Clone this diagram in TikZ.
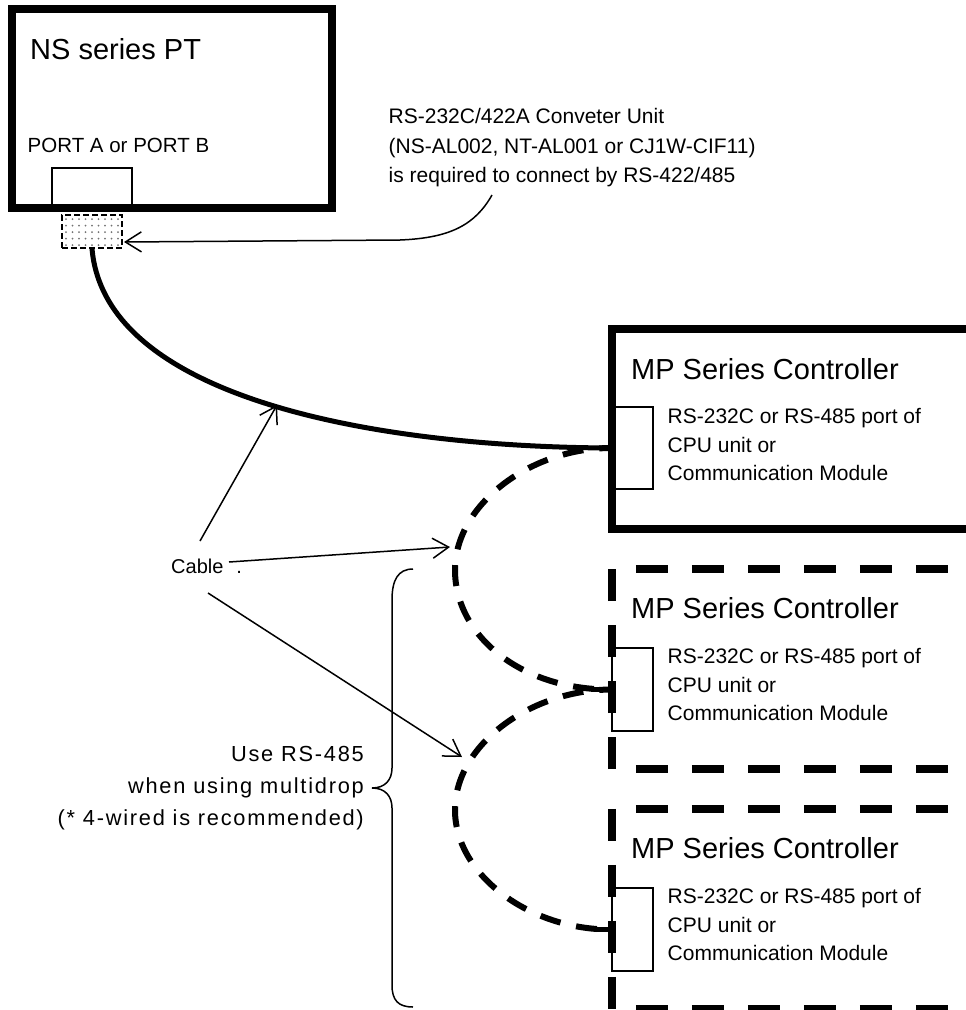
\documentclass[tikz,border=0pt]{standalone}
\usepackage{fontspec}
\setmainfont{Liberation Sans}
\newfontfamily\spacedfont[LetterSpace=8]{Liberation Sans}
\usetikzlibrary{arrows.meta,calc}
\tikzset{
  thickbox/.style={draw, line width=8pt, inner sep=0pt, rectangle},
  hiddenbox/.style={inner sep=0pt, rectangle},
  portbox/.style={draw, line width=1.5pt, inner sep=0pt, rectangle},
  bigtext/.style={font=\fontsize{29}{34}\selectfont, inner sep=0pt, anchor=base west},
  smalltext/.style={font=\fontsize{21}{29}\selectfont, inner sep=0pt, anchor=base west},
  bracetext/.style={font=\spacedfont\fontsize{21.8}{32}\selectfont, inner sep=0pt, anchor=base east},
  boxdash/.style={line width=8pt, dash pattern=on 32pt off 24pt},
  cablepen/.style={line width=5pt},
  cabledash/.style={line width=6pt, dash pattern=on 21pt off 16pt, dash phase=-28pt},
  arr/.style={line width=1.5pt, -{Straight Barb[length=16pt,width=20pt,line width=1.5pt]}},
  convbox/.style={draw, dash pattern=on 6pt off 3pt, line width=1.2pt, inner sep=0pt, rectangle},
}
\begin{document}
\begin{tikzpicture}[x=1pt,y=-1pt]
\clip (0,0) rectangle (966,1010);

% NS series PT
\node[thickbox, minimum width=320pt, minimum height=199pt] (ns) at (172,108.5) {};
\node[bigtext] (nstitle) at (30,59) {NS series PT};
\node[smalltext, font=\fontsize{20.5}{24}\selectfont] (portlbl) at (27.5,152) {PORT A or PORT B};
\node[portbox, minimum width=80pt, minimum height=40pt] (nsport) at (92,188) {};

% converter (dotted box)
\foreach \xx in {66,72.5,...,119} {
  \foreach \yy in {219,225.5,...,246} {
    \fill[black!55] (\xx,\yy) circle (1pt);
  }
}
\node[convbox, minimum width=60pt, minimum height=33pt] (conv) at (92,231.5) {};
\coordinate (convin) at (124,242);

% annotation
\node[smalltext] (an1) at (388.5,123) {RS-232C/422A Conveter Unit};
\node[smalltext] (an2) at (388.5,153) {(NS-AL002, NT-AL001 or CJ1W-CIF11)};
\node[smalltext] (an3) at (388.5,182) {is required to connect by RS-422/485};
\coordinate (anstart) at (492,195);
\draw[arr] (anstart) .. controls (475,225) and (450,238) .. (400,240) -- (convin);

% MP controllers
\node[thickbox, minimum width=380pt, minimum height=200pt] (mp1) at (802,429) {};
\node[hiddenbox, minimum width=380pt, minimum height=200pt] (mp2) at (802,669) {};
\node[hiddenbox, minimum width=380pt, minimum height=200pt] (mp3) at (802,909) {};

\draw[boxdash] (mp2.south west) -- (mp2.north west);
\draw[boxdash, dash phase=32pt] (mp2.north west) -- (mp2.north east);
\draw[boxdash, dash phase=32pt] (mp2.south west) -- (mp2.south east);
\draw[boxdash] (mp3.north west) -- (mp3.south west);
\draw[boxdash, dash phase=32pt] (mp3.north west) -- (mp3.north east);
\draw[boxdash, dash phase=32pt] (mp3.south west) -- (mp3.south east);

\node[portbox, minimum width=41pt, minimum height=82pt] (mp1port) at (632.5,448) {};
\node[portbox, minimum width=41pt, minimum height=83pt] (mp2port) at (632.5,689.5) {};
\node[portbox, minimum width=41pt, minimum height=83pt] (mp3port) at (632.5,929.5) {};

\node[bigtext] (mp1title) at (631,379) {MP Series Controller};
\node[bigtext] (mp2title) at (631,618) {MP Series Controller};
\node[bigtext] (mp3title) at (631,858) {MP Series Controller};

\node[smalltext] (mp1a) at (667.5,423) {RS-232C or RS-485 port of};
\node[smalltext] (mp1b) at (667.5,452) {CPU unit or};
\node[smalltext] (mp1c) at (667.5,480) {Communication Module};
\node[smalltext] (mp2a) at (667.5,663) {RS-232C or RS-485 port of};
\node[smalltext] (mp2b) at (667.5,692) {CPU unit or};
\node[smalltext] (mp2c) at (667.5,720) {Communication Module};
\node[smalltext] (mp3a) at (667.5,903) {RS-232C or RS-485 port of};
\node[smalltext] (mp3b) at (667.5,932) {CPU unit or};
\node[smalltext] (mp3c) at (667.5,960) {Communication Module};

% cables
\draw[cablepen] (conv.south) .. controls (105,400) and (380,447) .. (mp1port.west);
\draw[cabledash] (mp1port.west) .. controls (530,448) and (455,505) .. (455,570)
                 .. controls (455,635) and (520,690) .. (mp2port.west);
\draw[cabledash] (mp2port.west) .. controls (530,690) and (455,745) .. (455,810)
                 .. controls (455,875) and (530,930) .. (mp3port.west);
\draw[cablepen] ([xshift=-20pt]mp2port.west) -- (mp2port.west);
\draw[cablepen] ([xshift=-16pt]mp3port.west) -- (mp3port.west);

% Cable label and arrows
\node[smalltext, font=\fontsize{20}{24}\selectfont] (cable) at (171,573) {Cable\hspace{13pt}.};
\coordinate (c1s) at (200,541);
\coordinate (t1) at (277,405);
\coordinate (c2s) at (229,562);
\coordinate (t2) at (450,547);
\coordinate (c3s) at (208,593);
\coordinate (t3) at (462,757);
\draw[arr] (c1s) -- (t1);
\draw[arr] (c2s) -- (t2);
\draw[arr] (c3s) -- (t3);

% brace
\draw[line width=1.5pt] (413,569) .. controls (398,569) and (392,580) .. (392,600)
  -- (392,768) .. controls (392,780) and (385,788) .. (372,788)
  .. controls (385,788) and (392,796) .. (392,808)
  -- (392,985) .. controls (392,1000) and (398,1007) .. (413,1007);

\node[bracetext] (br1) at (364,761) {Use RS-485};
\node[bracetext] (br2) at (364,793) {when using multidrop};
\node[bracetext] (br3) at (364,825) {(* 4-wired is recommended)};
\end{tikzpicture}
\end{document}
